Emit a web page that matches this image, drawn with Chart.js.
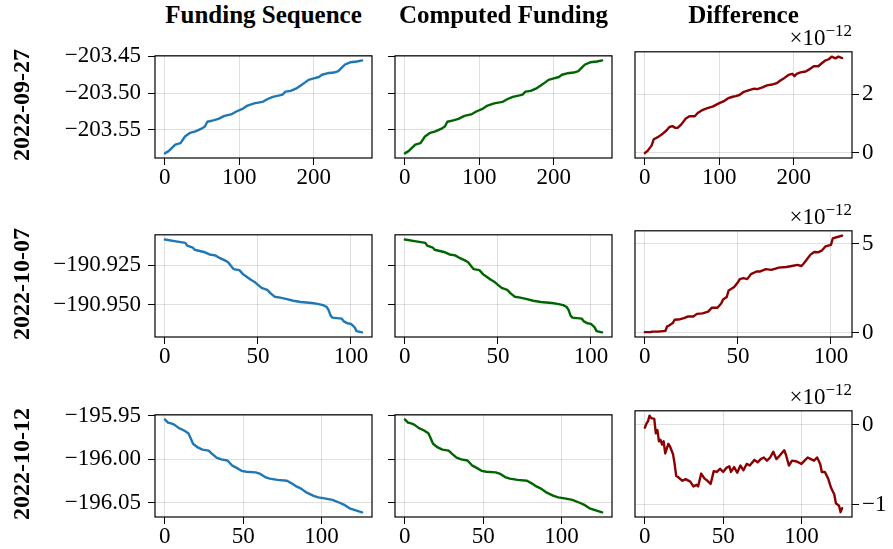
<!DOCTYPE html>
<html>
<head>
<meta charset="utf-8">
<script src="https://cdn.jsdelivr.net/npm/chart.js@4.4.1/dist/chart.umd.min.js"></script>
<style>
  body { margin: 0; background: #fff; }
  #fig { position: relative; width: 893px; height: 549px; overflow: hidden; font-family: 'Liberation Serif', serif; color: #000; }
  #fig canvas { position: absolute; }
  .title { position: absolute; top: 0px; width: 217px; text-align: center; font-weight: bold; font-size: 25px; line-height: 30px; white-space: nowrap; }
  .rowlab { position: absolute; left: -49px; width: 140px; height: 30px; line-height: 30px; text-align: center; font-weight: bold; font-size: 24px; transform: rotate(-90deg); }
  .offset { position: absolute; right: 41px; font-size: 23px; line-height: 26px; white-space: nowrap; }
  .offset span { font-size: 17px; position: relative; top: -9px; }
</style>
</head>
<body>
<div id="fig"></div>
<script>
// Column / row labels
const colTitles = ['Funding Sequence', 'Computed Funding', 'Difference'];
const rowDates = ['2022-09-27', '2022-10-07', '2022-10-12'];

// x ticks per row, y ticks per row (funding) and for the difference column (x 1e-12)
const xTicks = [[0, 100, 200], [0, 50, 100], [0, 50, 100]];
const fundTicks = [[-203.45, -203.50, -203.55], [-190.925, -190.950], [-195.95, -196.00, -196.05]];
const fundDecimals = [2, 3, 2];
const diffTicks = [[0, 2], [0, 5], [0, -1]];

// 2022-09-27
const fundX1 = [0,5,14,21,27,34,41,50,54,57,65,72,80,89,96,105,111,120,131,138,145,154,158,162,169,176,182,189,193,200,207,211,218,227,233,238,242,249,258,265];
const fund1 = [-203.582,-203.579,-203.570,-203.568,-203.559,-203.554,-203.552,-203.548,-203.545,-203.539,
  -203.537,-203.535,-203.531,-203.529,-203.525,-203.521,-203.517,-203.514,-203.512,-203.508,
  -203.505,-203.503,-203.502,-203.498,-203.497,-203.494,-203.490,-203.485,-203.482,-203.480,
  -203.478,-203.475,-203.473,-203.472,-203.470,-203.465,-203.461,-203.458,-203.457,-203.4555];
const diffX1 = [0,4,9,12,18,24,29,33,37,41,44,49,55,60,67,71,78,84,91,100,107,112,118,122,127,133,140,147,151,158,164,171,178,182,187,193,198,201,204,209,216,222,227,233,238,242,247,251,256,260,265];
const diff1 = [-0.02,0.07,0.24,0.46,0.54,0.65,0.76,0.88,0.91,0.85,0.85,0.97,1.17,1.25,1.25,1.36,1.47,1.53,1.58,1.70,
  1.78,1.87,1.92,1.94,1.98,2.09,2.15,2.20,2.18,2.24,2.31,2.34,2.40,2.48,2.56,2.67,2.71,2.63,2.71,2.76,
  2.79,2.88,2.97,2.97,3.08,3.16,3.21,3.30,3.24,3.30,3.25];

// 2022-10-07
const fundX2 = [0,6,11,12,15,16,21,24,27,29,32,34,36,37,40,42,43,46,48,50,52,55,57,59,62,65,69,73,79,82,85,87,88,89,90,95,96,98,100,102,103,106];
const fund2 = [-190.9084,-190.9096,-190.9106,-190.9124,-190.9136,-190.9150,-190.9164,-190.9180,-190.9186,-190.9200,
  -190.9216,-190.9230,-190.9260,-190.9274,-190.9280,-190.9306,-190.9314,-190.9340,-190.9354,-190.9374,
  -190.9394,-190.9406,-190.9430,-190.9450,-190.9456,-190.9464,-190.9476,-190.9484,-190.9490,-190.9496,
  -190.9504,-190.9516,-190.9536,-190.9570,-190.9584,-190.9590,-190.9606,-190.9620,-190.9624,-190.9646,
  -190.9670,-190.9678];
const diffX2 = [0,3,4,7,11,12,13,15,16,19,21,23,26,28,31,34,36,39,41,42,44,45,48,50,51,53,55,57,60,62,65,68,72,76,79,82,84,85,87,89,91,93,95,97,100,101,103,106];
const diff2 = [0.02,0.02,0.05,0.05,0.09,0.35,0.39,0.53,0.72,0.75,0.81,0.90,0.90,1.05,1.08,1.18,1.40,1.40,1.64,1.86,
  2.00,2.37,2.56,2.83,3.01,3.07,3.01,3.29,3.44,3.44,3.57,3.53,3.66,3.69,3.75,3.81,3.75,3.84,4.12,4.39,
  4.54,4.52,4.61,4.85,4.94,5.31,5.37,5.46];

// 2022-10-12
const fundX3 = [0,2,4,6,9,12,15,16,18,21,24,28,30,33,36,40,43,45,49,52,58,61,64,67,72,78,81,84,87,90,95,98,102,107,112,115,118,121,124,126];
const fund3 = [-195.9540,-195.9576,-195.9586,-195.9600,-195.9640,-195.9665,-195.9700,-195.9737,-195.9820,-195.9863,
  -195.9888,-195.9900,-195.9935,-195.9980,-196.0000,-196.0014,-196.0072,-196.0090,-196.0133,-196.0144,
  -196.0151,-196.0169,-196.0205,-196.0223,-196.0237,-196.0248,-196.0277,-196.0313,-196.0338,-196.0378,
  -196.0421,-196.0439,-196.0450,-196.0468,-196.0504,-196.0529,-196.0565,-196.0583,-196.0601,-196.0612];
const diffX3 = [0,1,2,3,4,6,7,8,9,10,11,12,13,15,16,18,19,20,21,24,26,29,31,33,34,36,38,40,42,44,46,48,50,52,54,55,57,59,61,63,65,67,70,72,74,76,78,80,82,84,86,89,90,92,94,97,100,102,104,106,108,110,112,113,115,117,119,121,122,124,125,126];
const diff3 = [-0.04,0.01,0.04,0.11,0.08,0.07,-0.11,-0.07,-0.21,-0.19,-0.25,-0.21,-0.36,-0.24,-0.27,-0.37,-0.49,-0.64,-0.65,-0.70,
  -0.68,-0.71,-0.77,-0.75,-0.77,-0.61,-0.67,-0.70,-0.74,-0.58,-0.59,-0.55,-0.59,-0.54,-0.52,-0.59,-0.53,-0.60,-0.51,-0.57,
  -0.49,-0.51,-0.44,-0.47,-0.43,-0.41,-0.45,-0.41,-0.34,-0.43,-0.39,-0.32,-0.37,-0.51,-0.45,-0.46,-0.49,-0.45,-0.41,-0.43,
  -0.45,-0.41,-0.49,-0.59,-0.59,-0.67,-0.79,-0.87,-0.98,-1.01,-1.09,-1.04];

const fundX = [fundX1, fundX2, fundX3];
const fund = [fund1, fund2, fund3];
// computed funding matches the funding sequence to ~1e-12, so the same readings are plotted
const computedX = [fundX1, fundX2, fundX3];
const computed = [fund1, fund2, fund3];
const diffX = [diffX1, diffX2, diffX3];
const diff = [diff1, diff2, diff3];

const colColors = ['#1f77b4', '#006400', '#8b0000'];

// Layout (plot boxes)
const boxLeft = [155, 395, 635];
const boxTop = [51, 230, 410];
const boxW = 217, boxH = 107;
const padTop = 16, xAxisH = 40;

const fig = document.getElementById('fig');
const tickFont = { family: "'Liberation Serif', serif", size: 23 };
const gridColor = 'rgba(0,0,0,0.12)';
const minus = s => s.replace('-', '\u2212');

// matplotlib-style 5% margins
function padRange(vals) {
  const lo = Math.min(...vals), hi = Math.max(...vals);
  const m = (hi - lo) * 0.05;
  return [lo - m, hi + m];
}

// draw the full axes frame
const frame = {
  id: 'frame',
  afterDatasetsDraw(chart) {
    const a = chart.chartArea, c = chart.ctx;
    c.save();
    c.strokeStyle = '#000';
    c.lineWidth = 1.2;
    c.strokeRect(a.left, a.top, a.right - a.left, a.bottom - a.top);
    c.restore();
  }
};

function makePanel(row, col, xs, ys, yTickVals, yLabel, yRange) {
  const leftW = col === 0 ? 150 : (col === 1 ? 12 : 0);
  const rightW = col === 2 ? 40 : 10;
  const padLeft = col === 2 ? 10 : 0;
  const canvas = document.createElement('canvas');
  const w = padLeft + leftW + boxW + rightW;
  const h = padTop + boxH + xAxisH;
  canvas.width = w; canvas.height = h;
  canvas.style.left = (boxLeft[col] - leftW - padLeft) + 'px';
  canvas.style.top = (boxTop[row] - padTop) + 'px';
  canvas.style.width = w + 'px'; canvas.style.height = h + 'px';
  fig.appendChild(canvas);

  const xr = padRange(xs);
  new Chart(canvas.getContext('2d'), {
    type: 'line',
    data: {
      datasets: [{
        data: xs.map((x, i) => ({ x: x, y: ys[i] })),
        borderColor: colColors[col],
        borderWidth: 2.4,
        pointRadius: 0,
        tension: 0,
        borderJoinStyle: 'round',
        borderCapStyle: 'round'
      }]
    },
    options: {
      responsive: false,
      animation: false,
      devicePixelRatio: 1,
      layout: { padding: { left: padLeft, right: col === 2 ? 0 : rightW, top: padTop, bottom: 0 } },
      plugins: { legend: { display: false }, tooltip: { enabled: false } },
      scales: {
        x: {
          type: 'linear', min: xr[0], max: xr[1],
          afterBuildTicks: s => { s.ticks = xTicks[row].map(v => ({ value: v })); },
          afterFit: s => { s.height = xAxisH; },
          grid: { color: gridColor, tickColor: '#000', tickLength: 7 },
          border: { display: false },
          ticks: { font: tickFont, color: '#000', padding: -1, maxRotation: 0, autoSkip: false, callback: v => String(v) }
        },
        y: {
          type: 'linear', position: col === 2 ? 'right' : 'left',
          min: yRange[0], max: yRange[1],
          afterBuildTicks: s => { s.ticks = yTickVals.map(v => ({ value: v })); },
          afterFit: s => { s.width = col === 2 ? rightW : leftW; },
          grid: { color: gridColor, tickColor: '#000', tickLength: 7 },
          border: { display: false },
          ticks: { font: tickFont, color: '#000', padding: col === 2 ? 3 : 7, autoSkip: false, callback: yLabel }
        }
      }
    },
    plugins: [frame]
  });
}

rowDates.forEach((d, r) => {
  const fr = padRange(fund[r]);
  const dec = fundDecimals[r];
  makePanel(r, 0, fundX[r], fund[r], fundTicks[r], v => minus(v.toFixed(dec)), fr);
  makePanel(r, 1, computedX[r], computed[r], fundTicks[r], () => '', fr);
  makePanel(r, 2, diffX[r], diff[r], diffTicks[r], v => minus(v.toFixed(0)), padRange(diff[r]));

  const lab = document.createElement('div');
  lab.className = 'rowlab';
  lab.textContent = d;
  lab.style.top = (boxTop[r] + boxH / 2 - 15) + 'px';
  fig.appendChild(lab);

  const off = document.createElement('div');
  off.className = 'offset';
  off.innerHTML = '\u00d710<span>\u221212</span>';
  off.style.top = (boxTop[r] - 26) + 'px';
  fig.appendChild(off);
});

colTitles.forEach((t, c) => {
  const el = document.createElement('div');
  el.className = 'title';
  el.textContent = t;
  el.style.left = boxLeft[c] + 'px';
  fig.appendChild(el);
});
</script>
</body>
</html>
